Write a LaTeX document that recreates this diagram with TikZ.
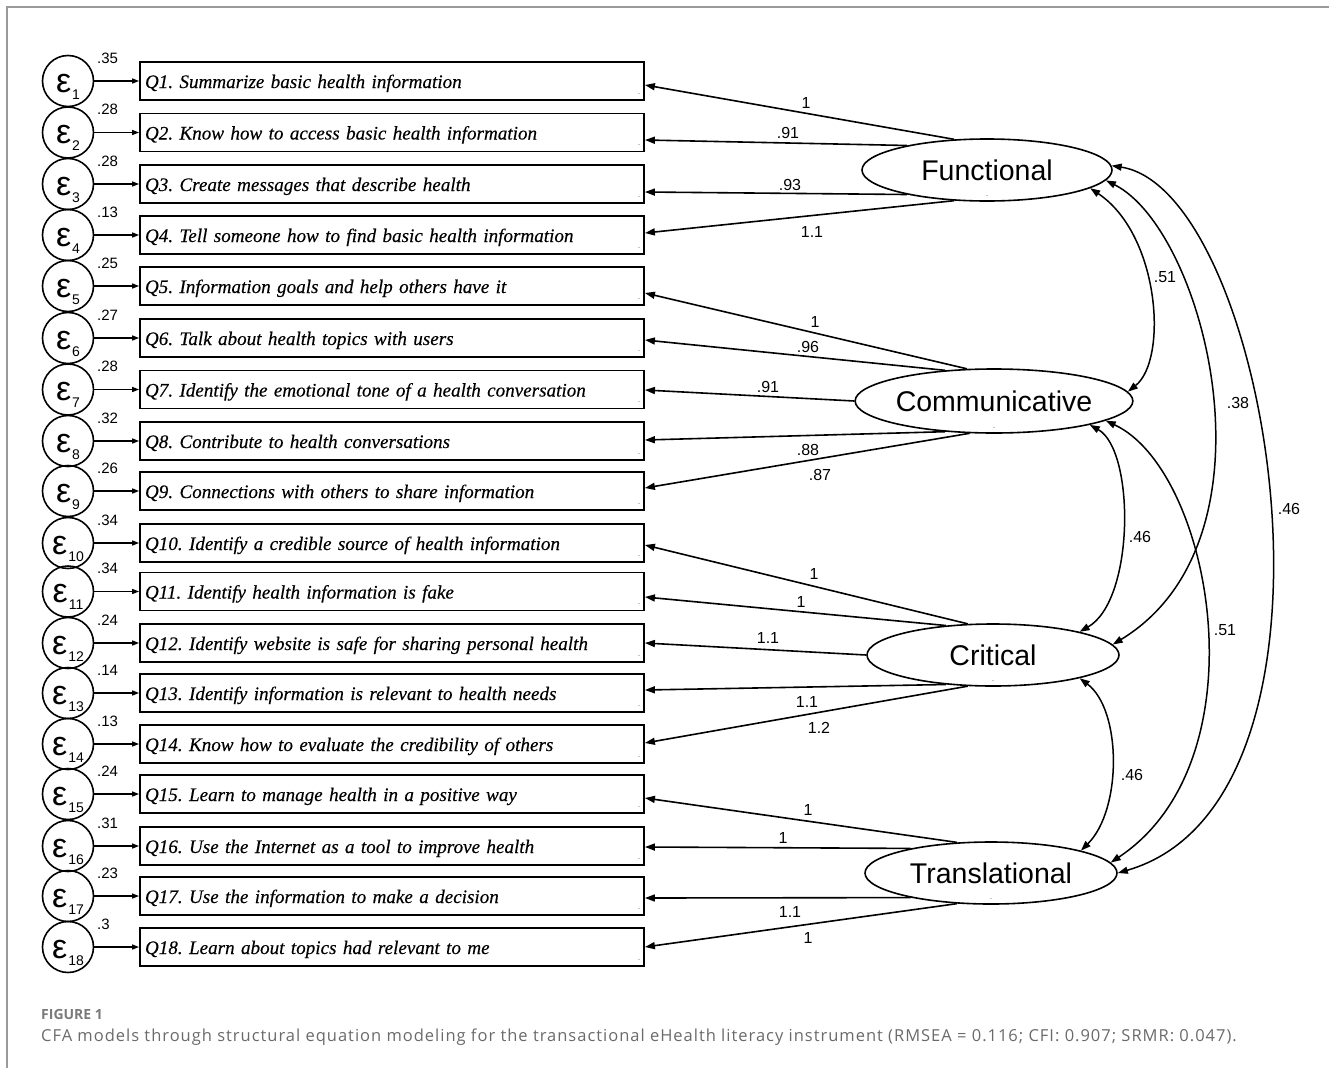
\documentclass[tikz,border=0pt]{standalone}
\usepackage{fontspec}
\setmainfont{Liberation Serif}
\newfontfamily\qfont{Liberation Serif}[UprightFont=* Italic,FakeBold=0.3]
\newfontfamily\lsans{Liberation Sans}
\newfontfamily\capfont{Open Sans}[LetterSpace=6]
\newfontfamily\capbold{Open Sans}[UprightFont=* Bold]
\usetikzlibrary{arrows.meta,shapes.geometric}
\definecolor{capgray}{HTML}{6A6A6A}
\definecolor{figgray}{HTML}{7A7A7A}
\definecolor{framegray}{HTML}{9A9A9A}
\begin{document}
\frenchspacing
\begin{tikzpicture}[x=1pt,y=-1pt,
  item/.style={draw,line width=1.8pt,minimum height=38pt,text width=494pt,
    text height=0pt,text depth=0pt,
    inner xsep=5pt,inner ysep=0pt,align=left,font=\qfont\fontsize{19.1}{19.1}\selectfont},
  err/.style={circle,draw,line width=1.6pt,minimum size=51pt,inner sep=0pt,
    text height=0pt,text depth=0pt,font=\lsans},
  latent/.style={ellipse,draw,line width=1.6pt,inner sep=0pt,
    font=\lsans\fontsize{28.5}{28.5}\selectfont},
  lab/.style={inner sep=0pt,font=\lsans\fontsize{16}{16}\selectfont},
  varlab/.style={inner sep=0pt,anchor=west,font=\lsans\fontsize{15}{15}\selectfont},
  tip/.tip={Triangle[length=10pt,width=7pt]},
  stip/.tip={Triangle[length=7pt,width=5pt]},
  load/.style={-tip,line width=1.6pt},
  erra/.style={-stip,line width=1.4pt},
  cov/.style={tip-tip,line width=1.5pt},
  dotmark/.style={draw=gray!45,line width=1pt}
]
\useasboundingbox (0,0) rectangle (1329,1068);
% frame
\draw[framegray,line width=1.5pt] (7,1068) -- (7,7) -- (1329,7);

% indicator rows
\foreach \i/\yy/\txt/\v in {
 1/81/{Q1. Summarize basic health information}/.35,
 2/132.5/{Q2. Know how to access basic health information}/.28,
 3/184/{Q3. Create messages that describe health}/.28,
 4/235/{Q4. Tell someone how to find basic health information}/.13,
 5/286/{Q5. Information goals and help others have it}/.25,
 6/338/{Q6. Talk about health topics with users}/.27,
 7/389.5/{Q7. Identify the emotional tone of a health conversation}/.28,
 8/441/{Q8. Contribute to health conversations}/.32,
 9/491/{Q9. Connections with others to share information}/.26,
 10/543/{Q10. Identify a credible source of health information}/.34,
 11/591.5/{Q11. Identify health information is fake}/.34,
 12/643/{Q12. Identify website is safe for sharing personal health}/.24,
 13/693/{Q13. Identify information is relevant to health needs}/.14,
 14/744/{Q14. Know how to evaluate the credibility of others}/.13,
 15/794/{Q15. Learn to manage health in a positive way}/.24,
 16/846/{Q16. Use the Internet as a tool to improve health}/.31,
 17/896/{Q17. Use the information to make a decision}/.23,
 18/947/{Q18. Learn about topics had relevant to me}/.3}{
  \node[item] (q\i) at (392,\yy) {\raisebox{-7pt}{\txt}};
  \node[err] (e\i) at (68,\yy) {\raisebox{-11pt}{\fontsize{34}{34}\selectfont ε}\hspace{1pt}\raisebox{-18pt}{\fontsize{14}{14}\selectfont\i}};
  \node[varlab] (v\i) at (97,\yy-23) {\v};
  \draw[erra] (e\i) -- (q\i);
  \draw[dotmark] ([shift={(-7,12)}]q\i.east) -- ([shift={(-5,12)}]q\i.east);
}

% latent variables
\node[latent,minimum width=250pt,minimum height=62pt] (F) at (987,170) {Functional};
\node[latent,minimum width=252pt,minimum height=64pt] (C) at (994,401) {Communicative};
\node[latent,minimum width=252pt,minimum height=62pt] (R) at (993,655) {Critical};
\node[latent,minimum width=252pt,minimum height=62pt] (T) at (991,873) {Translational};
\foreach \n in {F,C,R,T}{
  \draw[dotmark] ([shift={(-1,-6)}]\n.south) -- ([shift={(1,-6)}]\n.south);
}

% loadings
\foreach \lat/\ang/\q/\dy in {
 F/137/1/4, F/163/2/7.5, F/197/3/8, F/223/4/-2,
 C/130/5/7, C/148/6/2, C/180/7/0.5, C/212/8/-1, C/233/9/-3,
 R/129/10/2, R/148/11/5.5, R/180/12/0, R/212/13/-3, R/231/14/-1,
 T/138/15/4, T/163/16/1, T/197/17/2, T/222/18/0}{
  \draw[load] (\lat.\ang) -- ([shift={(0,\dy)}]q\q.east);
}

% loading labels
\node[lab] (lf1) at (806,103) {1};
\node[lab] (lf2) at (788,133) {.91};
\node[lab] (lf3) at (790,185) {.93};
\node[lab] (lf4) at (812,232) {1.1};
\node[lab] (lc1) at (815,322) {1};
\node[lab] (lc2) at (808,347) {.96};
\node[lab] (lc3) at (768,387) {.91};
\node[lab] (lc4) at (808,450) {.88};
\node[lab] (lc5) at (820,475) {.87};
\node[lab] (lr1) at (814,574) {1};
\node[lab] (lr2) at (801,602) {1};
\node[lab] (lr3) at (768,638) {1.1};
\node[lab] (lr4) at (807,702) {1.1};
\node[lab] (lr5) at (819,728) {1.2};
\node[lab] (lt1) at (808,810) {1};
\node[lab] (lt2) at (783,838) {1};
\node[lab] (lt3) at (790,912) {1.1};
\node[lab] (lt4) at (808,938) {1};

% covariances
\draw[cov] (F.-10) .. controls (1160,235) and (1168,360) .. (C.4);
\draw[cov] (F.-5) .. controls (1205,230) and (1285,540) .. (R.5);
\draw[cov] (C.-10) .. controls (1212,470) and (1265,760) .. (T.5);
\draw[cov] (F.2) .. controls (1270,190) and (1370,800) .. (T.0);
\draw[cov] (C.-14) .. controls (1135,450) and (1135,600) .. (R.15);
\draw[cov] (R.-15) .. controls (1122,710) and (1122,810) .. (T.14);

\node[lab] (k1) at (1165,277) {.51};
\node[lab] (k2) at (1238,403) {.38};
\node[lab] (k3) at (1289,509) {.46};
\node[lab] (k4) at (1140,537) {.46};
\node[lab] (k5) at (1225,630) {.51};
\node[lab] (k6) at (1132,775) {.46};

% caption
\node[anchor=base west,inner sep=0pt,text=figgray,font=\capbold\fontsize{14}{14}\selectfont] (fig) at (41,1019) {FIGURE 1};
\node[anchor=base west,inner sep=0pt,text=capgray,font=\capfont\fontsize{16.5}{16.5}\selectfont] (cap) at (41,1041)
  {CFA models through structural equation modeling for the transactional eHealth literacy instrument (RMSEA = 0.116; CFI: 0.907; SRMR: 0.047).};
\end{tikzpicture}
\end{document}
